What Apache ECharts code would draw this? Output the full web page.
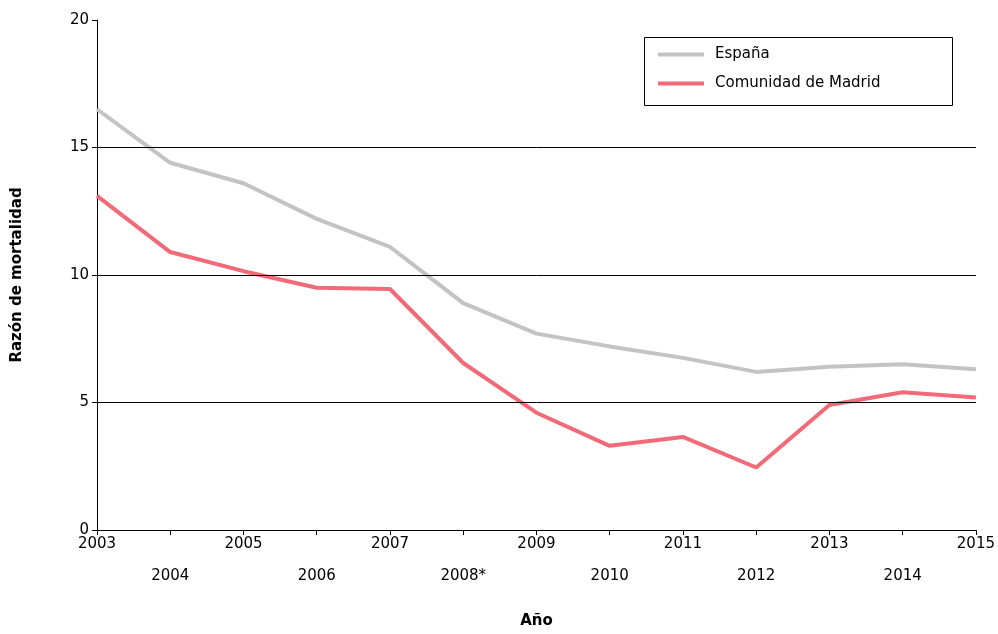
<!DOCTYPE html>
<html>
<head>
<meta charset="utf-8">
<script src="https://cdn.jsdelivr.net/npm/echarts@6/dist/echarts.min.js"></script>
<style>html,body{margin:0;padding:0;background:#fff}#chart{width:998px;height:634px}</style>
</head>
<body>
<div id="chart"></div>
<script>
// data
var years = ['2003', '2004', '2005', '2006', '2007', '2008*', '2009', '2010', '2011', '2012', '2013', '2014', '2015'];
var espana = [16.5, 14.4, 13.6, 12.2, 11.1, 8.9, 7.7, 7.2, 6.75, 6.2, 6.4, 6.5, 6.3];
var madrid = [13.1, 10.9, 10.15, 9.5, 9.45, 6.55, 4.6, 3.3, 3.65, 2.45, 4.9, 5.4, 5.2];
var gridValues = [5, 10, 15];

var chart = echarts.init(document.getElementById('chart'));
var font = 'DejaVu Sans';

var option = {
  animation: false,
  textStyle: { fontFamily: font },
  grid: { left: 97, right: 21, top: 20, bottom: 102 },
  graphic: [{
    type: 'rect', left: 642, top: 35,
    shape: { width: 308, height: 68 },
    style: { fill: 'none', stroke: '#000', lineWidth: 1 }
  }],
  legend: {
    orient: 'vertical',
    left: 658, top: 47,
    padding: 0,
    itemGap: 14,
    itemWidth: 46,
    itemHeight: 4,
    icon: 'rect',
    textStyle: { fontSize: 15, color: '#000', fontFamily: font, padding: [0, 0, 0, 6] },
    data: ['España', 'Comunidad de Madrid']
  },
  xAxis: {
    type: 'category',
    data: years,
    boundaryGap: false,
    name: 'Año',
    nameLocation: 'middle',
    nameGap: 84,
    nameTextStyle: { fontWeight: 'bold', fontSize: 15, color: '#000' },
    axisLine: { lineStyle: { color: '#000' } },
    axisTick: { lineStyle: { color: '#000' }, length: 5 },
    axisLabel: {
      interval: 0, color: '#000', fontSize: 15, margin: 6, lineHeight: 16,
      formatter: function (v, i) { return i % 2 ? '\n\n' + v : v; }
    },
    splitLine: { show: false }
  },
  yAxis: {
    type: 'value',
    min: 0, max: 20, interval: 5,
    name: 'Razón de mortalidad',
    nameLocation: 'middle',
    nameGap: 72,
    nameTextStyle: { fontWeight: 'bold', fontSize: 15, color: '#000' },
    axisLine: { show: true, lineStyle: { color: '#000' } },
    axisTick: { show: true, lineStyle: { color: '#000' }, length: 5 },
    axisLabel: { color: '#000', fontSize: 15, margin: 8 },
    splitLine: { show: false }
  },
  series: [
    {
      name: 'España', type: 'line', data: espana,
      symbol: 'none',
      lineStyle: { color: '#c3c3c3', width: 4 },
      itemStyle: { color: '#c3c3c3' },
      z: 3,
      markLine: {
        silent: true, symbol: 'none', label: { show: false },
        lineStyle: { color: '#000', width: 1, type: 'solid' },
        data: gridValues.map(function (v) { return { yAxis: v }; })
      }
    },
    {
      name: 'Comunidad de Madrid', type: 'line', data: madrid,
      symbol: 'none',
      lineStyle: { color: '#f06a78', width: 4 },
      itemStyle: { color: '#f06a78' },
      z: 4
    }
  ]
};
chart.setOption(option);
</script>
</body>
</html>
